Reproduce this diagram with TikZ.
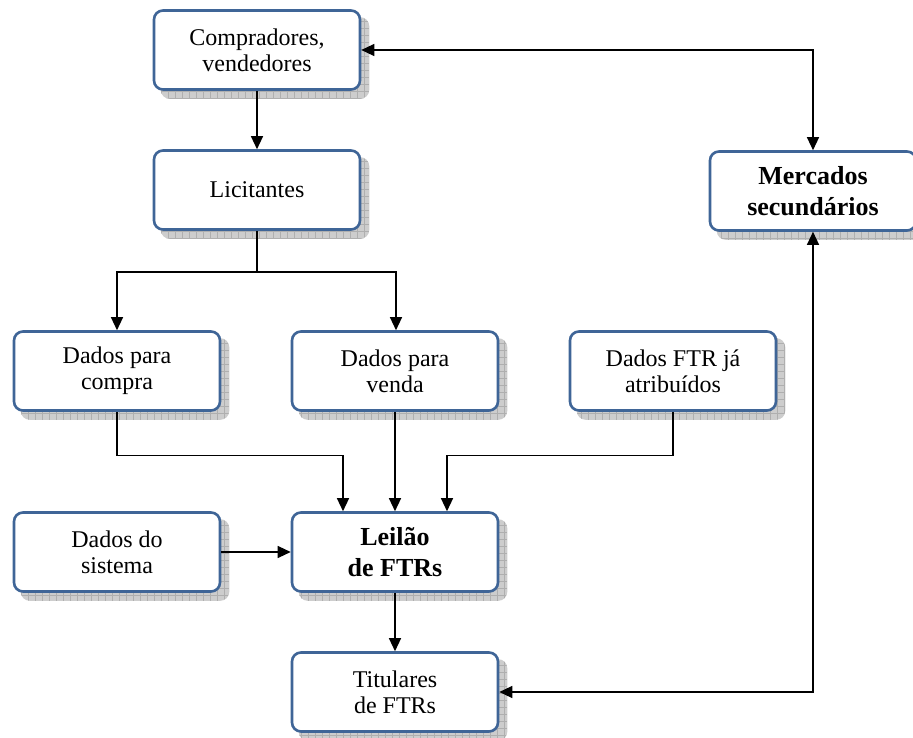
\documentclass[tikz,border=0pt]{standalone}
\usepackage{fontspec}
\setmainfont{Liberation Serif}
\usetikzlibrary{arrows.meta,backgrounds}
\definecolor{boxblue}{RGB}{63,101,151}
\definecolor{shadowgray}{RGB}{205,205,205}
\definecolor{gridgray}{RGB}{175,175,175}
\begin{document}
\begin{tikzpicture}[x=1pt,y=1pt,
  box/.style={draw=boxblue, line width=2.6pt, rounded corners=9pt, fill=white,
    minimum width=206pt, minimum height=79pt, align=center,
    font=\fontsize{24}{26}\selectfont, inner sep=2pt},
  boldbox/.style={box, font=\fontsize{26}{31}\selectfont\bfseries},
  conn/.style={line width=1.3pt, -{Triangle[length=13pt,width=12pt]}},
  bothconn/.style={line width=1.3pt, {Triangle[length=13pt,width=12pt]}-{Triangle[length=13pt,width=12pt]}},
  shadowbox/.style={fill=shadowgray, rounded corners=9pt,
    path picture={\draw[gridgray, line width=0.5pt]
      ([xshift=-1pt,yshift=-1pt]path picture bounding box.south west) grid[step=7pt]
      (path picture bounding box.north east);}}
]
\useasboundingbox (0,0) rectangle (913,-738);

% boxes
\node[box] (comp) at (257,-50)  {Compradores,\\vendedores};
\node[box] (lic)  at (257,-190) {Licitantes};
\node[boldbox] (merc) at (813,-191) {Mercados\\secundários};
\node[box] (dc)   at (117,-371) {Dados para\\compra};
\node[box] (dv)   at (395,-371) {Dados para\\venda};
\node[box] (df)   at (673,-371) {Dados FTR já\\atribuídos};
\node[box] (ds)   at (117,-552) {Dados do\\sistema};
\node[boldbox] (lei) at (395,-552) {Leilão\\de FTRs};
\node[box] (tit)  at (395,-692) {Titulares\\de FTRs};

% hatched drop shadows behind every box
\begin{scope}[on background layer]
\foreach \n in {comp,lic,merc,dc,dv,df,ds,lei,tit}
  \path[shadowbox] ([xshift=8pt,yshift=-8pt]\n.south west) rectangle ([xshift=8pt,yshift=-8pt]\n.north east);
\end{scope}

% connectors
\draw[bothconn] (merc.north) |- (comp.east);
\draw[bothconn] (merc.south) |- (tit.east);
\draw[conn] (comp.south) -- (lic.north);
\coordinate (split) at (257,-272);
\draw[line width=1.3pt] (lic.south) -- (split);
\draw[conn] (split) -| (dc.north);
\draw[conn] (split) -| ([xshift=1pt]dv.north);
\draw[conn] (dc.south) -- ++(0,-44) -| ([xshift=-52pt]lei.north);
\draw[conn] (dv.south) -- (lei.north);
\draw[conn] (df.south) -- ++(0,-44) -| ([xshift=52pt]lei.north);
\draw[conn] (ds.east) -- (lei.west);
\draw[conn] (lei.south) -- (tit.north);
\end{tikzpicture}
\end{document}
